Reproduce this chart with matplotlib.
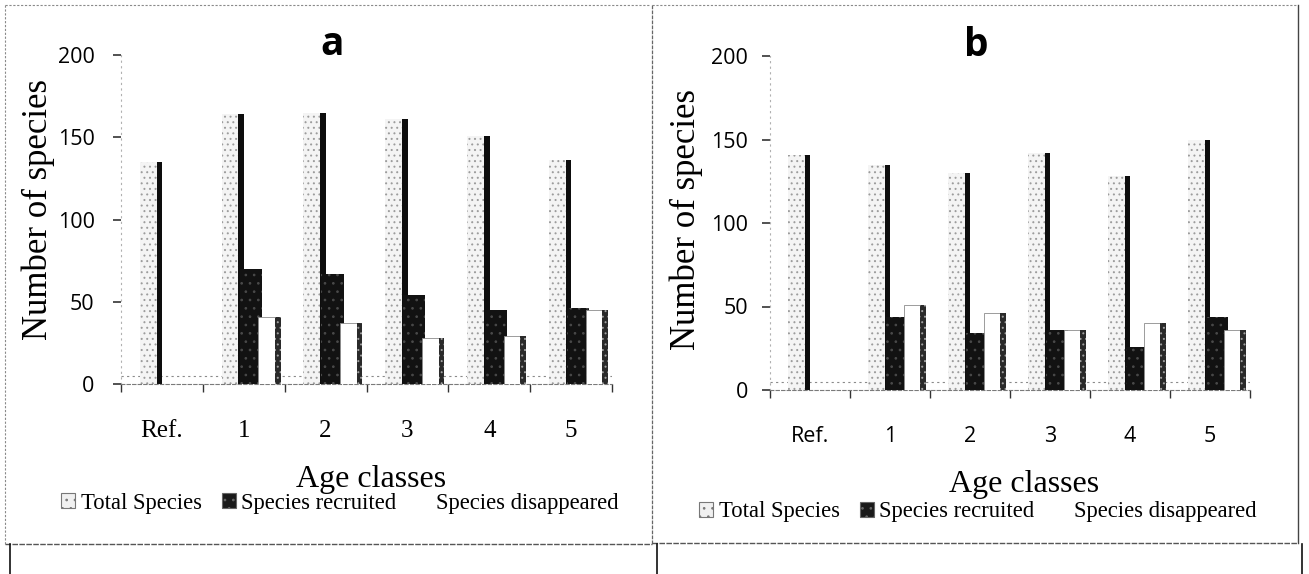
import matplotlib
matplotlib.use("Agg")
import matplotlib.pyplot as plt
from matplotlib.patches import Patch
from matplotlib.lines import Line2D
import numpy as np

plt.rcParams['hatch.linewidth'] = 0.7

# ---------------- data ----------------
categories = ["Ref.", "1", "2", "3", "4", "5"]
series_names = ["Total Species", "Species recruited", "Species disappeared"]

total_a = [135, 164, 165, 161, 151, 136]
recruited_a = [0, 70, 67, 54, 45, 46]
disappeared_a = [0, 41, 37, 28, 29, 45]

total_b = [141, 135, 130, 142, 128, 150]
recruited_b = [0, 44, 34, 36, 26, 44]
disappeared_b = [0, 51, 46, 36, 40, 36]

panel_titles = ["a", "b"]
y_ticks = [0, 50, 100, 150, 200]

W, H = 1309, 574
fig = plt.figure(figsize=(W / 100, H / 100), dpi=100)
fig.patch.set_facecolor("white")

SERIF = "Liberation Serif"
SANS = "Open Sans"


def px(x, y):
    return x / W, 1 - y / H


def frame_line(x0, y0, x1, y1, **kw):
    a = px(x0, y0)
    b = px(x1, y1)
    fig.add_artist(Line2D([a[0], b[0]], [a[1], b[1]], transform=fig.transFigure, **kw))


def draw_panel(ax, total, recruited, disappeared, title, cat_font, cat_size):
    x = np.arange(len(categories))
    ax.set_xlim(-0.5, len(categories) - 0.5)
    ax.set_ylim(0, 200)
    # floor back edge
    ax.axhline(5, color="#8a8a8a", lw=0.8, ls=(0, (2, 3)), zorder=0)
    # total species (front face + dark side face)
    ax.bar(x - 0.165, total, width=0.21, color="#f4f4f4", edgecolor="#9c9c9c",
           hatch="...", linewidth=0, zorder=2)
    ax.bar(x - 0.03, total, width=0.07, color="#0d0d0d", linewidth=0, zorder=2)
    # species recruited
    ax.bar(x + 0.085, recruited, width=0.27, color="#121212", edgecolor="#4a4a4a",
           hatch="..", linewidth=0, zorder=3)
    # species disappeared (front face + speckled side)
    ax.bar(x + 0.28, disappeared, width=0.2, color="#ffffff", edgecolor="#8c8c8c",
           linewidth=0.6, zorder=4)
    ax.bar(x + 0.415, disappeared, width=0.07, color="#2a2a2a", edgecolor="#a0a0a0",
           hatch="...", linewidth=0, zorder=4)

    for s in ["top", "right"]:
        ax.spines[s].set_visible(False)
    ax.spines["left"].set_color("#b0b0b0")
    ax.spines["left"].set_linestyle((0, (1, 4)))
    ax.spines["left"].set_linewidth(0.8)
    ax.spines["bottom"].set_color("#7a7a7a")
    ax.spines["bottom"].set_linestyle((0, (3, 2)))
    ax.spines["bottom"].set_linewidth(0.8)

    ax.set_yticks(y_ticks)
    ax.set_yticklabels([str(v) for v in y_ticks], fontfamily=SANS, fontsize=15.5)
    ax.tick_params(axis="y", length=6, width=1.2, color="#333333", pad=13)

    ax.set_xticks(x)
    ax.set_xticklabels(categories, fontfamily=cat_font, fontsize=cat_size)
    ax.set_xticks(np.arange(-0.5, len(categories)), minor=True)
    ax.tick_params(axis="x", which="major", length=0, pad=26)
    ax.tick_params(axis="x", which="minor", length=6, width=1.0, color="#333333")

    ax.set_ylabel("Number of species", fontfamily=SERIF, fontsize=25)
    ax.set_xlabel("Age classes", fontfamily=SERIF, fontsize=23)
    ax.set_title(title, fontfamily=SANS, fontweight="bold", fontsize=28,
                 x=0.43, y=1.0, pad=0)
    ax.set_facecolor("none")


# ---- panel a ----
ax_a = fig.add_axes([121 / W, 1 - 384 / H, (612 - 121) / W, (384 - 55) / H])
draw_panel(ax_a, total_a, recruited_a, disappeared_a, panel_titles[0], SERIF, 18)
ax_a.yaxis.set_label_coords(-0.135, 0.53)
ax_a.xaxis.set_label_coords(0.51, -0.245)

# ---- panel b ----
ax_b = fig.add_axes([770 / W, 1 - 390 / H, (1250 - 770) / W, (390 - 56) / H])
draw_panel(ax_b, total_b, recruited_b, disappeared_b, panel_titles[1], SANS, 15.5)
ax_b.tick_params(axis="y", pad=10)
ax_b.yaxis.set_label_coords(-0.14, 0.51)
ax_b.xaxis.set_label_coords(0.53, -0.24)

# ---- legends ----
handles = [
    Patch(facecolor="#f0f0f0", edgecolor="#777777", hatch="..", linewidth=0.8),
    Patch(facecolor="#1a1a1a", edgecolor="#666666", hatch="..", linewidth=0.8),
    Patch(facecolor="white", edgecolor="white", linewidth=0),
]
for anchor in [px(340, 503), px(978, 512)]:
    fig.legend(handles, series_names, loc="center", bbox_to_anchor=anchor, ncol=3,
               frameon=False, prop={"family": SERIF, "size": 16.3},
               handlelength=0.6, handleheight=0.6, handletextpad=0.25,
               columnspacing=0.9, borderaxespad=0)

# ---- panel frames (scanned boxes) ----
kw_dot = dict(color="#8a8a8a", lw=0.8, ls=(0, (2, 1.5)))
frame_line(5, 5, 650, 5, **kw_dot)
frame_line(5, 5, 5, 544, **kw_dot)
frame_line(5, 544, 652, 544, color="#555555", lw=1.0, ls=(0, (4, 1)))
frame_line(10, 544, 10, 574, color="#111111", lw=1.2)

frame_line(652, 5, 1298, 5, **kw_dot)
frame_line(652, 5, 652, 544, color="#666666", lw=0.9, ls=(0, (3, 1)))
frame_line(1298, 5, 1298, 543, color="#444444", lw=1.0)
frame_line(652, 543, 1298, 543, color="#555555", lw=1.0, ls=(0, (4, 1)))
frame_line(657, 544, 657, 574, color="#111111", lw=1.2)
frame_line(1302, 544, 1302, 574, color="#111111", lw=1.2)

fig.savefig("out.png", dpi=100, facecolor="white")
